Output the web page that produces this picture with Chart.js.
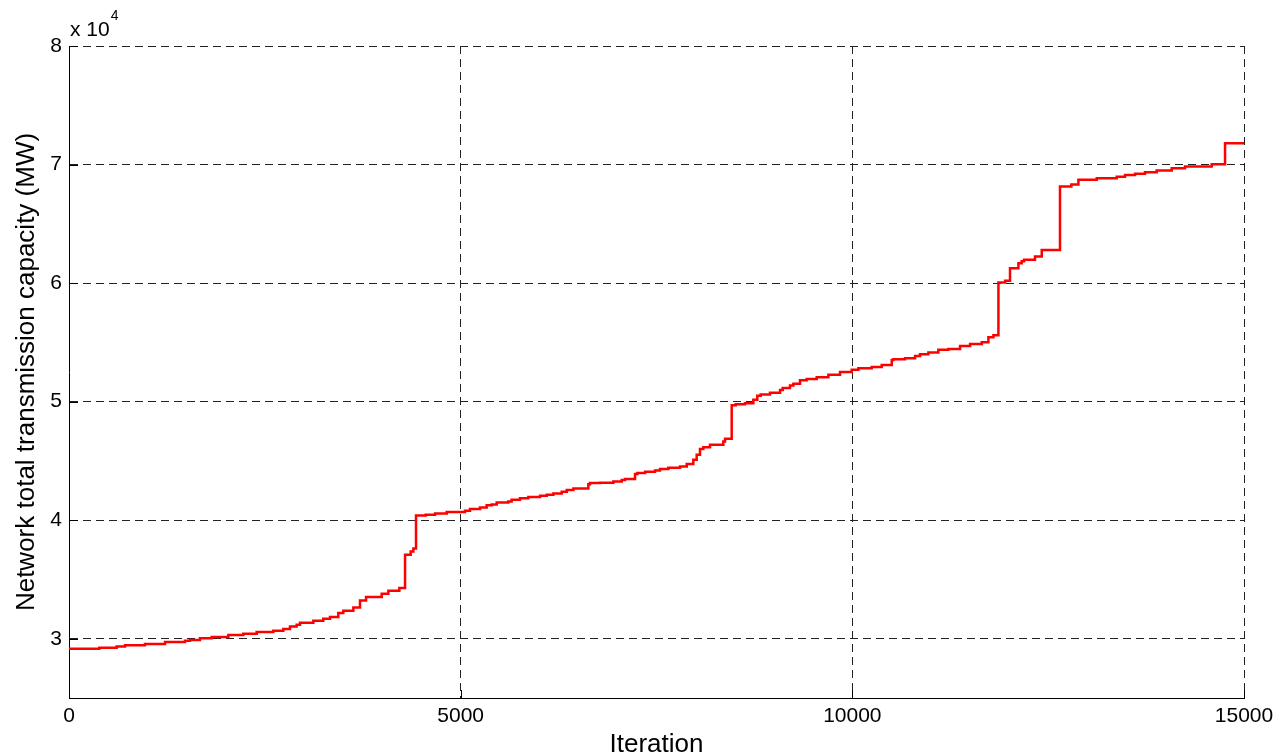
<!DOCTYPE html>
<html>
<head>
<meta charset="utf-8">
<script src="https://cdn.jsdelivr.net/npm/chart.js@4/dist/chart.umd.min.js"></script>
<style>
  html, body { margin: 0; padding: 0; background: #fff; }
  #wrap { width: 1276px; height: 754px; }
</style>
</head>
<body>
<div id="wrap"><canvas id="c" width="1276" height="754"></canvas></div>
<script>
// iteration at which each step starts, and the capacity (MW) from there on
const iterations = [
  0, 387, 608, 715, 970, 1226, 1481, 1545, 1672, 1821, 2034, 2225, 2396, 2608, 2736, 2821,
  2906, 2949, 3119, 3246, 3332, 3438, 3502, 3630, 3715, 3792, 3992, 4077, 4217, 4290,
  4362, 4396, 4430, 4553, 4673, 4822, 5055, 5119, 5247, 5332, 5396, 5460, 5608, 5651,
  5757, 5864, 6013, 6098, 6183, 6290, 6354, 6439, 6630, 6651, 6779, 6949, 7056, 7098,
  7226, 7256, 7354, 7481, 7545, 7651, 7800, 7886, 7970, 8013, 8055, 8098, 8183, 8353,
  8375, 8460, 8511, 8630, 8736, 8787, 8830, 8949, 9077, 9111, 9204, 9247, 9332, 9417,
  9545, 9694, 9843, 9992, 10077, 10247, 10375, 10503, 10524, 10673, 10801, 10864, 10971,
  11098, 11226, 11375, 11503, 11652, 11737, 11801, 11865, 11950, 12013, 12120, 12162,
  12192, 12332, 12418, 12651, 12796, 12886, 13120, 13375, 13481, 13609, 13736, 13885,
  14077, 14247, 14588, 14758, 14886, 15000
];
const capacity = [
  29070, 29160, 29240, 29350, 29440, 29550, 29720, 29830, 29900, 30030, 30140, 30310, 30420, 30560, 30670, 30820,
  31040, 31180, 31350, 31520, 31690, 31830, 32170, 32360, 32640, 33230, 33510, 33790, 34050, 34270,
  37080, 37360, 37610, 40400, 40460, 40560, 40680, 40790, 40940, 41070, 41270, 41330, 41490, 41580,
  41720, 41860, 41950, 42060, 42140, 42250, 42390, 42540, 42670, 43040, 43130, 43150, 43260, 43380,
  43470, 43890, 43970, 44080, 44190, 44310, 44420, 44530, 44730, 45090, 45510, 46000, 46160, 46360,
  46640, 46860, 49700, 49790, 49870, 50150, 50490, 50600, 50740, 50990, 51140, 51360, 51500, 51810,
  51920, 52060, 52260, 52490, 52680, 52820, 52930, 53100, 53520, 53580, 53660, 53860, 54000,
  54140, 54370, 54450, 54700, 54870, 55020, 55430, 55600, 60040, 60190, 61260, 61680,
  61850, 61960, 62240, 62800, 68140, 68310, 68710, 68850, 68980, 69120, 69230, 69350,
  69490, 69690, 69830, 70030, 71790, 71790
];
const xTicks = [0, 5000, 10000, 15000];
const yTicks = [30000, 40000, 50000, 60000, 70000, 80000];
const yScaleExp = 4;

const FONT = '"Liberation Sans", Arial, sans-serif';

// MATLAB-style inward tick marks + the "x 10^4" multiplier
const matlabBits = {
  id: 'matlabBits',
  afterDraw(chart) {
    const { ctx, chartArea: a, scales: { x, y } } = chart;
    ctx.save();
    ctx.strokeStyle = '#000';
    ctx.lineWidth = 1;
    ctx.setLineDash([]);
    ctx.beginPath();
    xTicks.forEach(v => {
      const px = Math.round(x.getPixelForValue(v)) + 0.5;
      ctx.moveTo(px, a.bottom); ctx.lineTo(px, a.bottom - 8);
    });
    yTicks.forEach(v => {
      const py = Math.round(y.getPixelForValue(v)) + 0.5;
      ctx.moveTo(a.left, py); ctx.lineTo(a.left + 9, py);
    });
    ctx.stroke();

    ctx.fillStyle = '#000';
    ctx.textBaseline = 'alphabetic';
    ctx.font = '21px ' + FONT;
    ctx.fillText('x 10', a.left + 1, a.top - 10);
    const w = ctx.measureText('x 10').width;
    ctx.font = '14px ' + FONT;
    ctx.fillText(String(yScaleExp), a.left + 2 + w, a.top - 26);
    ctx.restore();
  }
};

const points = iterations.map((it, i) => ({ x: it, y: capacity[i] }));

new Chart(document.getElementById('c'), {
  type: 'line',
  data: {
    datasets: [{
      data: points,
      borderColor: '#ff0000',
      borderWidth: 2.5,
      pointRadius: 0,
      stepped: 'after',
      fill: false
    }]
  },
  options: {
    responsive: false,
    animation: false,
    layout: { padding: { top: 46, right: 32, bottom: 0, left: 0 } },
    plugins: { legend: { display: false }, tooltip: { enabled: false } },
    scales: {
      x: {
        type: 'linear',
        min: 0, max: 15000,
        afterBuildTicks: s => { s.ticks = xTicks.map(v => ({ value: v })); },
        afterFit: s => { s.height = 56; s.paddingLeft = 0; s.paddingRight = 0; },
        ticks: {
          color: '#000', font: { family: FONT, size: 21 }, padding: 6, maxRotation: 0,
          callback: v => String(v)
        },
        grid: {
          drawTicks: false,
          color: ctx => (ctx.tick && ctx.tick.value === 0) ? 'rgba(0,0,0,0)' : '#222',
          lineWidth: 1
        },
        border: { display: true, color: '#000', width: 1, dash: [8, 5] },
        title: {
          display: true, text: 'Iteration', color: '#000',
          font: { family: FONT, size: 26, lineHeight: 0.7 }, padding: 0
        }
      },
      y: {
        type: 'linear',
        min: 25000, max: 80000,
        afterBuildTicks: s => { s.ticks = yTicks.map(v => ({ value: v })); },
        afterFit: s => { s.width = 69; s.paddingTop = 0; s.paddingBottom = 0; },
        ticks: {
          color: '#000', font: { family: FONT, size: 21 }, padding: 7,
          callback: v => String(v / Math.pow(10, yScaleExp))
        },
        grid: { drawTicks: false, color: '#222', lineWidth: 1 },
        border: { display: true, color: '#000', width: 1, dash: [8, 5] },
        title: {
          display: true, text: 'Network total transmission capacity (MW)', color: '#000',
          font: { family: FONT, size: 26, lineHeight: 1.2 }, padding: { top: 11, bottom: 0 }
        }
      }
    }
  },
  plugins: [matlabBits]
});
</script>
</body>
</html>
